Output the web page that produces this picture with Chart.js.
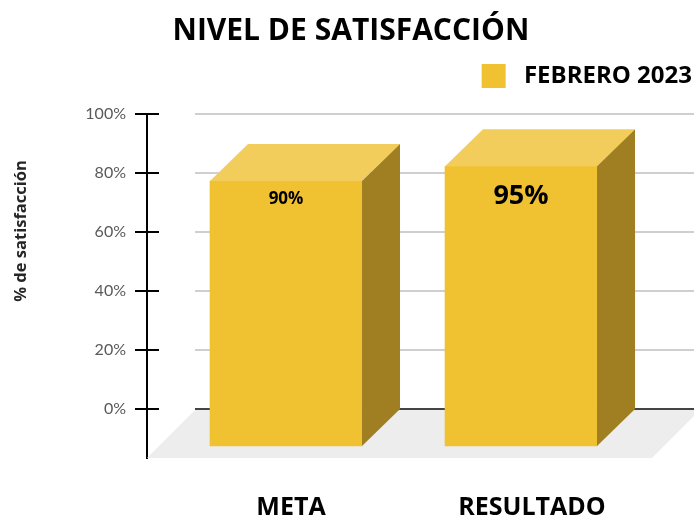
<!DOCTYPE html>
<html>
<head>
<meta charset="utf-8">
<style>body { margin: 0; background: #fff; }</style>
<script src="https://cdn.jsdelivr.net/npm/chart.js@4"></script>
</head>
<body>
<canvas id="satisfaccionChart" width="694" height="518"></canvas>
<script>
const categories = ["META", "RESULTADO"];
const seriesName = "FEBRERO 2023";
const seriesValues = [90, 95];
const valueLabels = ["90%", "95%"];
const yTickValues = [0, 20, 40, 60, 80, 100];

const FRONT = "#F0C232", TOP = "#F2CD5C", SIDE = "#A07F22";
const DEPTH_X = 38, DEPTH_Y = 37;
const labelFontSizes = [17, 27];
const labelDrops = [18, 30];

function poly(ctx, pts, color) {
    ctx.fillStyle = color;
    ctx.beginPath();
    pts.forEach((p, i) => i ? ctx.lineTo(p[0], p[1]) : ctx.moveTo(p[0], p[1]));
    ctx.closePath();
    ctx.fill();
}

// extra room under the legend
const legendGap = {
    id: "legendGap",
    beforeInit(chart) {
        const fit = chart.legend.fit;
        chart.legend.fit = function () {
            fit.call(this);
            this.height += 16;
        };
    }
};

const box3d = {
    id: "box3d",
    beforeDatasetsDraw(chart) {
        const ctx = chart.ctx, a = chart.chartArea, y = chart.scales.y;
        const y0 = y.getPixelForValue(0);
        ctx.save();
        // floor
        poly(ctx, [[a.left, a.bottom], [a.left + 48, y0 + 1], [a.right + 6, y0 + 1], [a.right - 42, a.bottom]], "#EDEDED");
        // back wall lines start behind the axis, inner half of the tick is drawn here too
        yTickValues.forEach(v => {
            const py = Math.round(y.getPixelForValue(v));
            ctx.lineWidth = 2;
            ctx.strokeStyle = v === 0 ? "#444444" : "#CFCFCF";
            ctx.beginPath();
            ctx.moveTo(a.left + 48, py);
            ctx.lineTo(a.right, py);
            ctx.stroke();
            ctx.strokeStyle = "#000";
            ctx.beginPath();
            ctx.moveTo(a.left, py);
            ctx.lineTo(a.left + 12, py);
            ctx.stroke();
        });
        ctx.restore();
    },
    afterDatasetsDraw(chart) {
        const ctx = chart.ctx;
        ctx.save();
        chart.getDatasetMeta(0).data.forEach((bar, i) => {
            const l = bar.x - bar.width / 2, r = bar.x + bar.width / 2;
            poly(ctx, [[l, bar.y], [l + DEPTH_X, bar.y - DEPTH_Y], [r + DEPTH_X, bar.y - DEPTH_Y], [r, bar.y]], TOP);
            poly(ctx, [[r, bar.y], [r + DEPTH_X, bar.y - DEPTH_Y], [r + DEPTH_X, bar.base - DEPTH_Y], [r, bar.base]], SIDE);
            ctx.fillStyle = "#000";
            ctx.font = "700 " + labelFontSizes[i] + "px 'Open Sans'";
            ctx.textAlign = "center";
            ctx.textBaseline = "middle";
            ctx.fillText(valueLabels[i], bar.x, bar.y + labelDrops[i]);
        });
        // y axis title sits above the middle of the axis, so it is placed by hand
        ctx.translate(21, 231);
        ctx.rotate(-Math.PI / 2);
        ctx.fillStyle = "#262626";
        ctx.font = "700 16.5px 'Open Sans'";
        ctx.textAlign = "center";
        ctx.textBaseline = "middle";
        ctx.fillText("% de satisfacción", 0, 0);
        ctx.restore();
    }
};

new Chart("satisfaccionChart", {
    type: "bar",
    plugins: [legendGap, box3d],
    data: {
        datasets: [{
            label: " " + seriesName,
            data: seriesValues.map((v, i) => ({ x: i, y: v })),
            backgroundColor: FRONT,
            barThickness: 152,
            xAxisID: "xBars",
            yAxisID: "yBars"
        }]
    },
    options: {
        responsive: false,
        animation: false,
        plugins: {
            tooltip: { enabled: false },
            title: {
                display: true,
                text: " NIVEL DE SATISFACCIÓN",
                color: "#000",
                font: { family: "'Open Sans'", size: 30, weight: "700" },
                padding: { top: 9, bottom: 13 }
            },
            legend: {
                position: "top",
                align: "end",
                labels: {
                    boxWidth: 24,
                    boxHeight: 24,
                    color: "#000",
                    padding: 2,
                    font: { family: "'Open Sans'", size: 24, weight: "700" }
                }
            }
        },
        scales: {
            x: {
                type: "linear",
                position: "bottom",
                offset: false,
                min: -0.5975,
                max: 1.672,
                afterBuildTicks: s => { s.ticks = categories.map((c, i) => ({ value: i })); },
                afterFit: s => { s.height = 60; },
                grid: { display: false },
                border: { display: false },
                ticks: {
                    callback: v => categories[v],
                    color: "#000",
                    padding: 27,
                    maxRotation: 0,
                    autoSkip: false,
                    font: { family: "'Open Sans'", size: 25, weight: "700" }
                }
            },
            y: {
                min: -16.6,
                max: 100,
                afterBuildTicks: s => { s.ticks = yTickValues.map(v => ({ value: v })); },
                afterFit: s => { s.width = 147; s.paddingTop = 114; },
                grid: { drawOnChartArea: false, color: "#000", lineWidth: 2, tickLength: 12 },
                border: { color: "#000", width: 2 },
                ticks: {
                    callback: v => v + "%",
                    color: "#595959",
                    padding: 9,
                    font: { family: "Lato", size: 16 }
                }
            },
            xBars: { type: "linear", display: false, offset: false, min: -0.5915, max: 1.736 },
            yBars: { display: false, min: -4.08, max: 112.77 }
        }
    }
});
</script>
</body>
</html>
